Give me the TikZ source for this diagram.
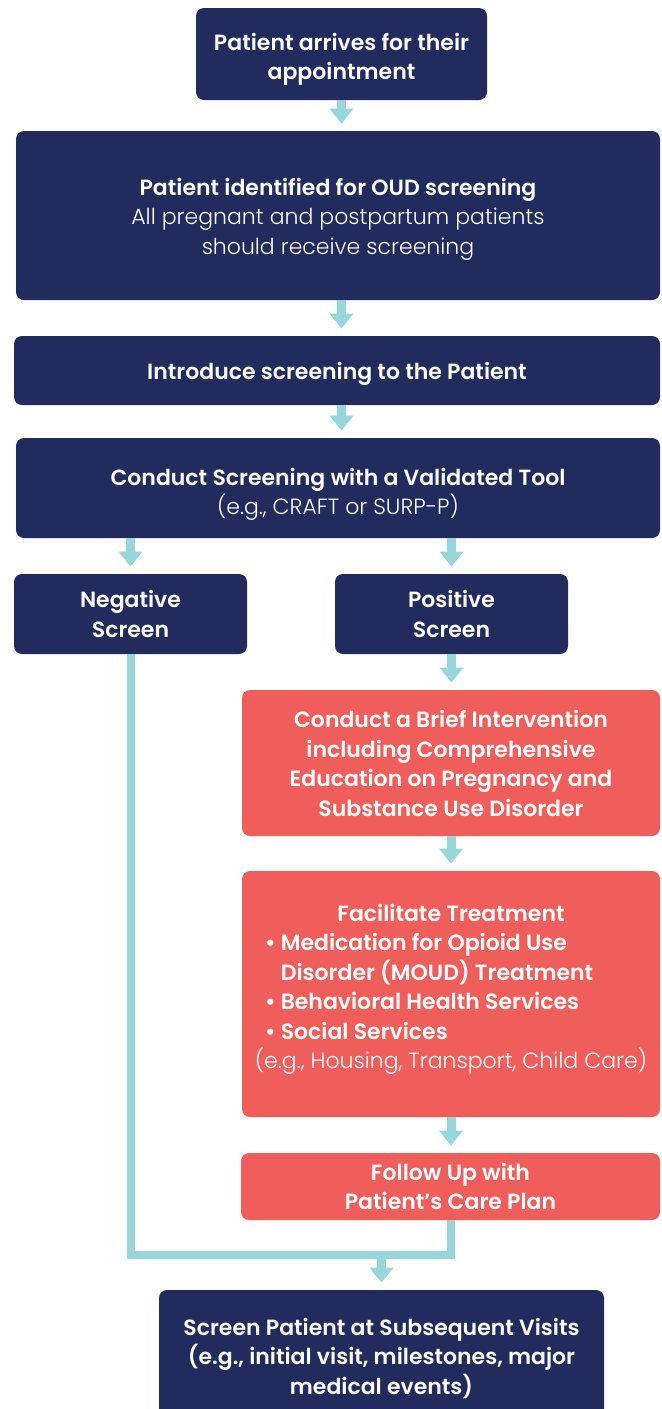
\documentclass[tikz,border=0pt]{standalone}
\usepackage{fontspec}
\setmainfont{Poppins}[BoldFont={Poppins SemiBold}]
\newfontface\lightfont{Poppins Light}
\usetikzlibrary{arrows.meta,calc}
\definecolor{boxnavy}{HTML}{212B5E}
\definecolor{boxred}{HTML}{EF5E5A}
\definecolor{flowteal}{HTML}{97D6D9}
\tikzset{
    stepnode/.style={rectangle,rounded corners=4pt,fill=boxnavy,text=white,align=center,inner sep=0pt,
        font=\fontsize{11}{14.75}\selectfont\bfseries},
    redstep/.style={stepnode,fill=boxred},
    textlines/.style={execute at begin node={\rule{0pt}{\dimexpr14.75pt*#1-2.75pt\relax}}},
    toptext/.style={execute at begin node={\rule{0pt}{#1}}},
    flow/.style={draw=flowteal,line width=4.5pt,-{Triangle[width=11.5pt,length=7.5pt]},shorten >=3.5pt},
    backflow/.style={draw=flowteal,line width=4pt},
}
\newcommand{\bulletline}[1]{\makebox[186pt][l]{#1}}

\begin{document}
\begin{tikzpicture}[x=0.5pt,y=-0.5pt]
    \useasboundingbox (0,0) rectangle (662,1409);

    % main column
    \node[stepnode,toptext=28.75pt,minimum width=145.5pt,minimum height=46pt] (arrive) at (341.5,54) {Patient arrives for their\\appointment};
    \node[stepnode,textlines=3,minimum width=322pt,minimum height=84.5pt] (identify) at (338,215.5) {Patient identified for OUD screening\\{\lightfont All pregnant and postpartum patients}\\{\lightfont should receive screening}};
    \node[stepnode,textlines=1,minimum width=323pt,minimum height=34.5pt] (intro) at (337,370.5) {Introduce screening to the Patient};
    \node[stepnode,toptext=29.75pt,minimum width=322pt,minimum height=50pt] (conduct) at (338,488) {Conduct Screening with a Validated Tool\\{\lightfont (e.g., CRAFT or SURP-P)}};

    % results
    \node[stepnode,toptext=21.75pt,minimum width=116.5pt,minimum height=40pt] (neg) at (130.5,614) {Negative\\Screen};
    \node[stepnode,toptext=21.75pt,minimum width=116.5pt,minimum height=40pt] (pos) at (451.5,614) {Positive\\Screen};

    % positive branch
    \node[redstep,toptext=53.25pt,minimum width=209pt,minimum height=73pt] (brief) at (451,763) {Conduct a Brief Intervention\\including Comprehensive\\Education on Pregnancy and\\Substance Use Disorder};
    \node[redstep,textlines=6,minimum width=209pt,minimum height=123pt,execute at end node={\rule[-11pt]{0pt}{11pt}}] (facil) at (451,994) {Facilitate Treatment\\
        \bulletline{\textbullet\ Medication for Opioid Use}\\
        \bulletline{\phantom{\textbullet\ }Disorder (MOUD) Treatment}\\
        \bulletline{\textbullet\ Behavioral Health Services}\\
        \bulletline{\textbullet\ Social Services}\\
        {\lightfont (e.g., Housing, Transport, Child Care)}};
    \node[redstep,toptext=23.25pt,minimum width=209.5pt,minimum height=33.5pt] (follow) at (450.5,1186.5) {Follow Up with\\Patient’s Care Plan};

    \node[stepnode,textlines=3,minimum width=222.5pt,minimum height=65pt] (screen) at (381.5,1355) {Screen Patient at Subsequent Visits\\(e.g., initial visit, milestones, major\\medical events)};

    \coordinate (join) at (381.5,1255);

    \draw[flow] (arrive.south) -- (arrive.south |- identify.north);
    \draw[flow] (arrive.south |- identify.south) -- (arrive.south |- intro.north);
    \draw[flow] (arrive.south |- intro.south) -- (arrive.south |- conduct.north);
    \draw[flow] (neg.north |- conduct.south) -- (neg.north);
    \draw[flow] (pos.north |- conduct.south) -- (pos.north);
    \draw[flow] (pos.south) -- (pos.south |- brief.north);
    \draw[flow] (brief.south) -- (facil.north);
    \draw[flow] (facil.south) -- (facil.south |- follow.north);
    \draw[backflow] (neg.south) |- (join) -| (follow.south);
    \draw[flow] (join) -- (screen.north);
\end{tikzpicture}
\end{document}
